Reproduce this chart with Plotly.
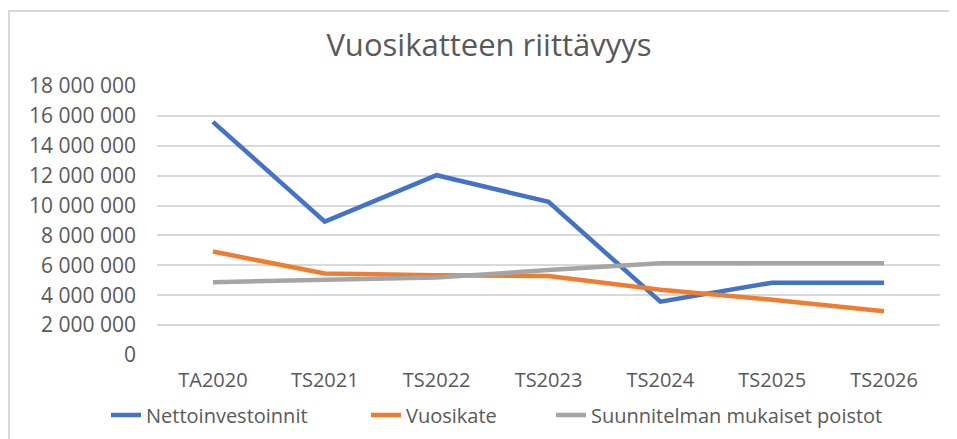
import plotly.graph_objects as go

categories = ["TA2020", "TS2021", "TS2022", "TS2023", "TS2024", "TS2025", "TS2026"]
nettoinvestoinnit = [15600000, 8920000, 12030000, 10250000, 3570000, 4840000, 4840000]
vuosikate = [6920000, 5460000, 5340000, 5290000, 4370000, 3700000, 2930000]
poistot = [4870000, 5040000, 5190000, 5680000, 6140000, 6140000, 6140000]
series_names = ["Nettoinvestoinnit", "Vuosikate", "Suunnitelman mukaiset poistot"]
colors = ["#4472C4", "#ED7D31", "#A5A5A5"]

W, H = 957, 439
OFF = 8  # page body margin offset
# target screen positions
plot_l, plot_r, plot_t, plot_b = 157, 940, 86, 355
ml = plot_l - OFF
mr = W - (plot_r - OFF)
mt = plot_t - OFF
mb = H - (plot_b - OFF)
pw, ph = W - ml - mr, H - mt - mb

def px(x):
    return (x - OFF - ml) / pw

def py(y):
    return (H - mb - (y - OFF)) / ph

legend_text_starts = [148, 408, 593]
legend_keys = ["legend2", "legend3", "legend4"]

fig = go.Figure()
for name, vals, c, lk in zip(series_names, [nettoinvestoinnit, vuosikate, poistot], colors, legend_keys):
    fig.add_trace(go.Scatter(
        x=categories, y=vals, name=name, mode="lines",
        line=dict(color=c, width=4.5), legend=lk, showlegend=True,
    ))

txt = "#595959"
legends = {}
for lk, xs in zip(legend_keys, legend_text_starts):
    legends[lk] = dict(orientation="h", x=px(xs - 42), xanchor="left", y=py(415), yanchor="middle",
                       font=dict(size=20, color=txt), itemwidth=30, bgcolor="rgba(0,0,0,0)")

fig.update_layout(
    width=W, height=H,
    margin=dict(l=ml, r=mr, t=mt, b=mb),
    paper_bgcolor="white", plot_bgcolor="white",
    separators=", ",
    font=dict(family="Open Sans", color=txt),
    title=dict(text="Vuosikatteen riittävyys", x=(489 - OFF) / W, xanchor="center",
               y=1 - (45 - OFF) / H, yanchor="middle", xref="container", yref="container",
               font=dict(size=31, color=txt, family="Open Sans")),
    xaxis=dict(range=[-0.5, 6.5], showgrid=False, showline=False, zeroline=False,
               ticks="", tickfont=dict(size=20, color=txt), ticklabelstandoff=11),
    yaxis=dict(range=[0, 18000000], dtick=2000000, tickformat=",d",
               showgrid=True, gridcolor="#d9d9d9", gridwidth=1.5,
               zeroline=False, showline=False, ticks="",
               tickfont=dict(size=21, color=txt), ticklabelstandoff=20),
    shapes=[dict(type="rect", xref="paper", yref="paper",
                 x0=px(9), x1=px(970), y0=py(450), y1=py(11),
                 line=dict(color="#d9d9d9", width=2), fillcolor="rgba(0,0,0,0)", layer="below")],
    **legends,
)

fig.write_html("out.html")
